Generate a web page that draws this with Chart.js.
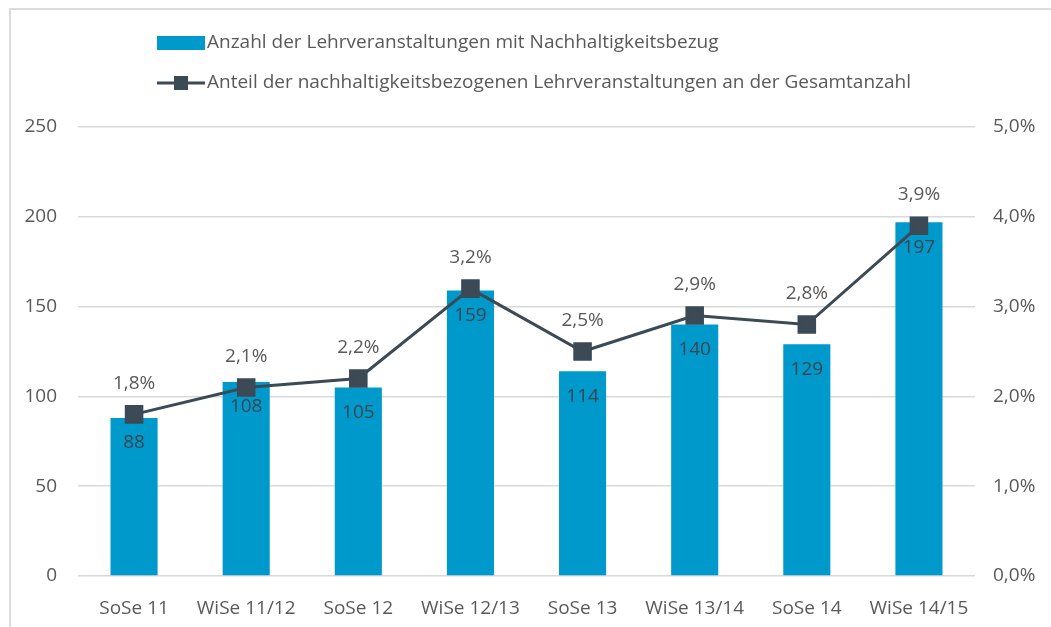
<!DOCTYPE html>
<html>
<head>
<meta charset="utf-8">
<script src="https://cdn.jsdelivr.net/npm/chart.js@4.4.1/dist/chart.umd.min.js"></script>
<style>
  body { margin: 0; background: #fff; }
  #wrap { width: 1051px; height: 627px; position: relative; }
</style>
</head>
<body>
<div id="wrap"><canvas id="chart"></canvas></div>
<script>
const semesters = ["SoSe 11", "WiSe 11/12", "SoSe 12", "WiSe 12/13", "SoSe 13", "WiSe 13/14", "SoSe 14", "WiSe 14/15"];
const courseCounts = [88, 108, 105, 159, 114, 140, 129, 197];
const sharePercent = [1.8, 2.1, 2.2, 3.2, 2.5, 2.9, 2.8, 3.9];
const barLabel = "Anzahl der Lehrveranstaltungen mit Nachhaltigkeitsbezug";
const lineLabel = "Anteil der nachhaltigkeitsbezogenen Lehrveranstaltungen an der Gesamtanzahl";

const barColor = "#0099cc";
const lineColor = "#3b4a55";
const textColor = "#595959";
const fontFamily = "'Open Sans', sans-serif";
const fontSize = 19;

function fmtPct(v) {
  return v.toFixed(1).replace(".", ",") + "%";
}

// frame, legend and value labels
const extras = {
  id: "extras",
  beforeDraw(chart) {
    const ctx = chart.ctx;
    ctx.save();
    ctx.strokeStyle = "#dcdcdc";
    ctx.lineWidth = 2;
    ctx.beginPath();
    ctx.moveTo(1051, 9);
    ctx.lineTo(10, 9);
    ctx.lineTo(10, 627);
    ctx.stroke();

    ctx.font = fontSize + "px " + fontFamily;
    ctx.fillStyle = textColor;
    ctx.textBaseline = "middle";
    ctx.textAlign = "left";
    // bar entry
    ctx.fillStyle = barColor;
    ctx.fillRect(157, 36, 48, 14);
    ctx.fillStyle = textColor;
    ctx.fillText(barLabel, 207, 43);
    // line entry
    ctx.strokeStyle = lineColor;
    ctx.lineWidth = 3;
    ctx.beginPath();
    ctx.moveTo(157, 83);
    ctx.lineTo(205, 83);
    ctx.stroke();
    ctx.fillStyle = lineColor;
    ctx.fillRect(174, 76, 14, 14);
    ctx.fillStyle = textColor;
    ctx.fillText(lineLabel, 207, 83);
    ctx.restore();
  },
  afterDatasetsDraw(chart) {
    const ctx = chart.ctx;
    ctx.save();
    ctx.font = fontSize + "px " + fontFamily;
    ctx.textAlign = "center";
    ctx.textBaseline = "middle";
    const bars = chart.getDatasetMeta(1).data;
    bars.forEach((b, i) => {
      ctx.fillStyle = "#3a4650";
      ctx.fillText(courseCounts[i], b.x, b.y + 25);
    });
    const pts = chart.getDatasetMeta(0).data;
    pts.forEach((p, i) => {
      ctx.fillStyle = textColor;
      ctx.fillText(fmtPct(sharePercent[i]), p.x, p.y - 31);
    });
    ctx.restore();
  }
};

new Chart(document.getElementById("chart"), {
  data: {
    labels: semesters,
    datasets: [
      {
        type: "line",
        label: lineLabel,
        data: sharePercent,
        yAxisID: "y1",
        borderColor: lineColor,
        backgroundColor: lineColor,
        borderWidth: 3,
        pointStyle: "rect",
        pointRadius: 11,
        pointHoverRadius: 11,
        tension: 0,
        order: 0
      },
      {
        type: "bar",
        label: barLabel,
        data: courseCounts,
        yAxisID: "y",
        backgroundColor: barColor,
        categoryPercentage: 1,
        barPercentage: 0.42,
        order: 1
      }
    ]
  },
  options: {
    responsive: true,
    maintainAspectRatio: false,
    animation: false,
    layout: { padding: { top: 127, left: 0, right: 0, bottom: 0 } },
    plugins: {
      legend: { display: false },
      tooltip: { enabled: false }
    },
    scales: {
      x: {
        grid: { display: false },
        border: { display: false },
        ticks: { color: textColor, font: { family: fontFamily, size: fontSize }, padding: 13, maxRotation: 0 },
        afterFit(scale) { scale.height = 51; }
      },
      y: {
        position: "left",
        min: 0,
        max: 250,
        grid: { color: "#d9d9d9", lineWidth: 1.5, drawTicks: false },
        border: { display: false },
        ticks: { stepSize: 50, color: textColor, font: { family: fontFamily, size: fontSize }, padding: 21 },
        afterFit(scale) { scale.width = 78; }
      },
      y1: {
        position: "right",
        min: 0,
        max: 5,
        grid: { display: false, drawTicks: false },
        border: { display: false },
        ticks: { stepSize: 1, color: textColor, font: { family: fontFamily, size: fontSize }, padding: 18, callback: v => fmtPct(v) },
        afterFit(scale) { scale.width = 76; }
      }
    }
  },
  plugins: [extras]
});
</script>
</body>
</html>
